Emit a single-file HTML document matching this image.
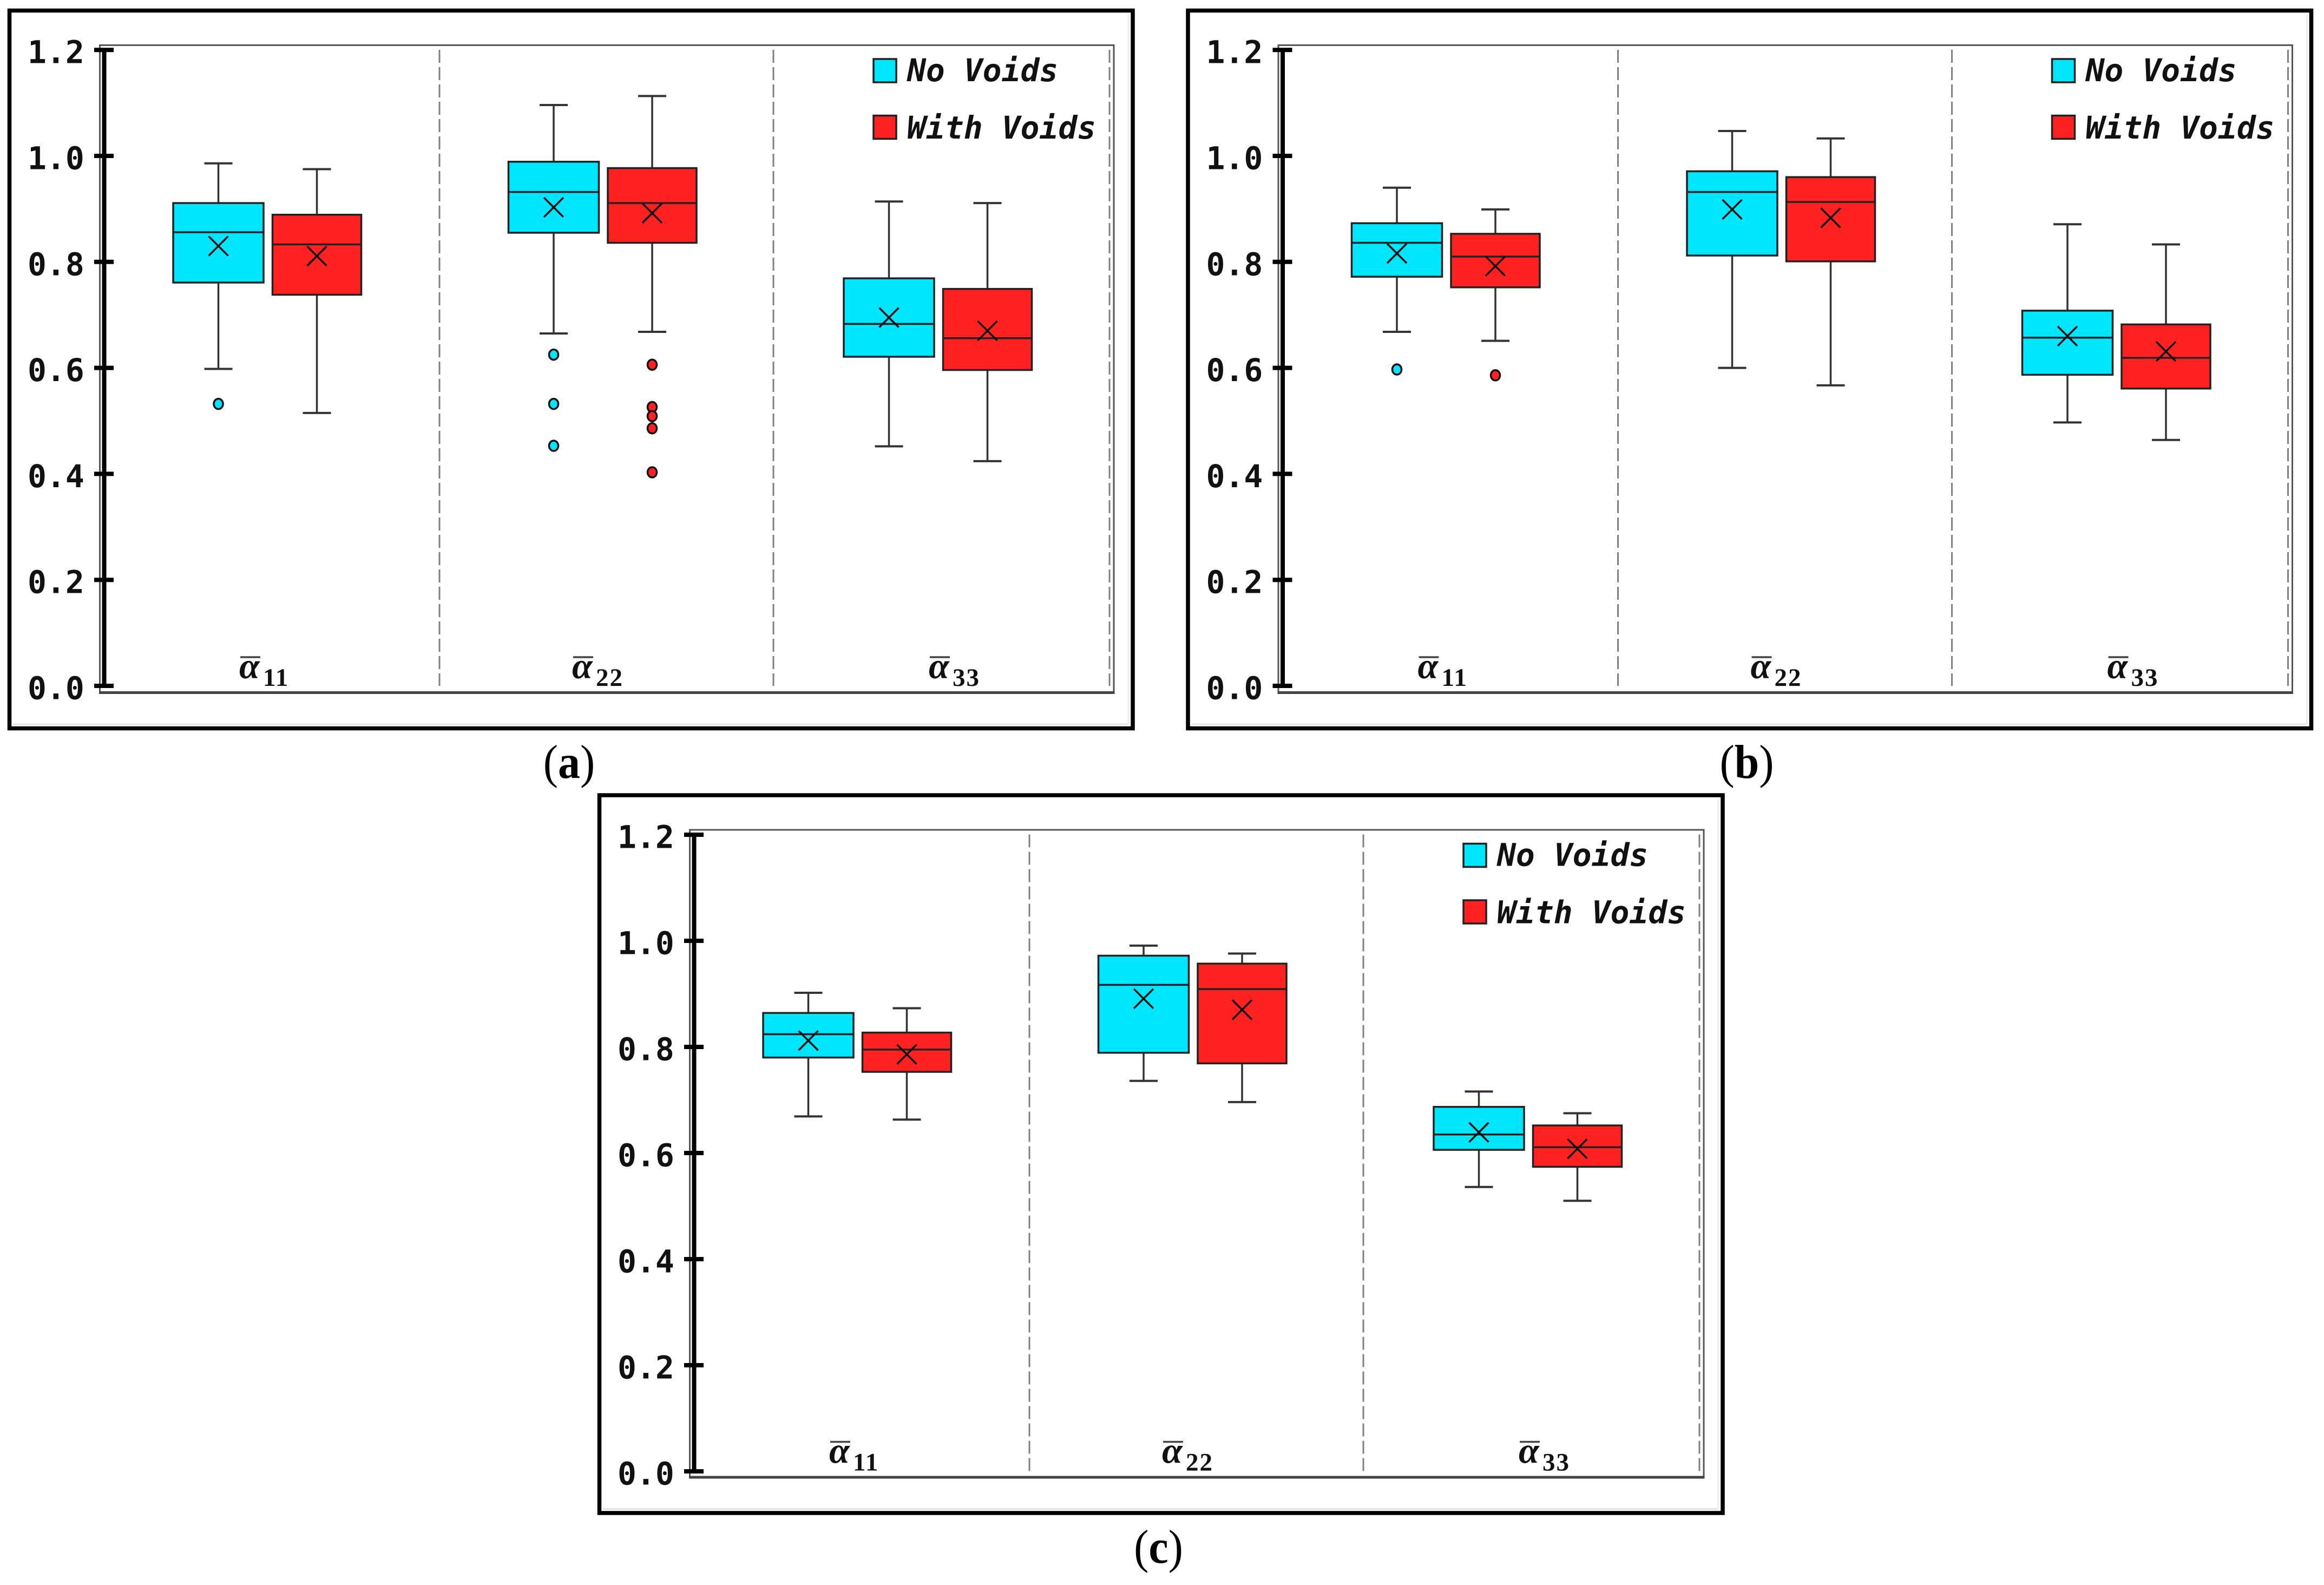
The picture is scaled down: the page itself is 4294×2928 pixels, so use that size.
<!DOCTYPE html>
<html lang="en">
<head>
<meta charset="utf-8">
<title>Box plots of normalised alpha components with and without voids</title>
<style>
html,body{margin:0;padding:0;background:#fff;}
body{width:4294px;height:2928px;overflow:hidden;}
svg{display:block;}
</style>
</head>
<body>
<svg id="chart" xmlns="http://www.w3.org/2000/svg" width="4294" height="2928" viewBox="0 0 4294 2928"></svg>
<script>
// ---- shared chart labels ----
const categorySubscripts = ['11', '22', '33'];
const seriesNames = ['No Voids', 'With Voids'];
const seriesColors = ['#00E6FF', '#FF2020'];
const tickValues = [0, 0.2, 0.4, 0.6, 0.8, 1.0, 1.2];
const tickLabels = ['0.0', '0.2', '0.4', '0.6', '0.8', '1.0', '1.2'];
const panelLetters = ['a', 'b', 'c'];

// ---- panel (a): rows are series (No Voids, With Voids), columns are categories ----
const panelA_whiskerHigh = [[0.986, 1.096, 0.914], [0.975, 1.113, 0.911]];
const panelA_q3 = [[0.911, 0.989, 0.769], [0.889, 0.977, 0.749]];
const panelA_median = [[0.856, 0.932, 0.683], [0.833, 0.911, 0.656]];
const panelA_mean = [[0.830, 0.903, 0.695], [0.811, 0.892, 0.670]];
const panelA_q1 = [[0.761, 0.855, 0.621], [0.738, 0.836, 0.596]];
const panelA_whiskerLow = [[0.598, 0.665, 0.452], [0.515, 0.668, 0.424]];
const panelA_outliers = [[[0.532], [0.625, 0.532, 0.453], []], [[], [0.606, 0.526, 0.509, 0.486, 0.403], []]];

// ---- panel (b) ----
const panelB_whiskerHigh = [[0.940, 1.047, 0.871], [0.899, 1.033, 0.833]];
const panelB_q3 = [[0.873, 0.971, 0.708], [0.853, 0.960, 0.682]];
const panelB_median = [[0.836, 0.932, 0.657], [0.810, 0.913, 0.619]];
const panelB_mean = [[0.816, 0.899, 0.660], [0.792, 0.883, 0.631]];
const panelB_q1 = [[0.772, 0.812, 0.587], [0.752, 0.801, 0.561]];
const panelB_whiskerLow = [[0.668, 0.600, 0.497], [0.651, 0.567, 0.464]];
const panelB_outliers = [[[0.597], [], []], [[0.586], [], []]];

// ---- panel (c) ----
const panelC_whiskerHigh = [[0.902, 0.991, 0.716], [0.873, 0.976, 0.675]];
const panelC_q3 = [[0.864, 0.972, 0.687], [0.827, 0.957, 0.652]];
const panelC_median = [[0.824, 0.917, 0.635], [0.795, 0.909, 0.611]];
const panelC_mean = [[0.812, 0.891, 0.639], [0.786, 0.870, 0.608]];
const panelC_q1 = [[0.780, 0.789, 0.606], [0.753, 0.769, 0.574]];
const panelC_whiskerLow = [[0.669, 0.736, 0.536], [0.663, 0.696, 0.510]];
const panelC_outliers = [[[], [], []], [[], [], []]];

// ---- axis functions (panel-local pixel space) ----
let yZero = 1267, yUnit = 979;
function yScale(v) { return yZero - v * yUnit; }
const GROUP_START = 494.5, GROUP_STEP = 619.5, SERIES_OFFSET = 91;
function xScale(cat, ser) { return GROUP_START + GROUP_STEP * cat + (ser === 0 ? -SERIES_OFFSET : SERIES_OFFSET); }
function boxWidth(ser) { return ser === 0 ? 167 : 164; }

const NS = 'http://www.w3.org/2000/svg';
const MONO = '"DejaVu Sans Mono","Liberation Mono",monospace';
const SERIF = '"Liberation Serif",serif';
function mk(parent, tag, attrs, text) {
  const n = document.createElementNS(NS, tag);
  for (const k in attrs) n.setAttribute(k, attrs[k]);
  if (text !== undefined) n.textContent = text;
  parent.appendChild(n);
  return n;
}
function tag(n, name, interactable) {
  
  
  return n;
}

const svg = document.getElementById('chart');

function drawPanel(letter, dx, dy, zero, unit, s) {
  yZero = zero;
  yUnit = unit;
  const g = mk(svg, 'g', { transform: 'translate(' + dx + ',' + dy + ')' });
  tag(g, 'panel-' + letter, false);

  // card frame and its faint inner shadow
  const sh1 = mk(g, 'line', { x1: 24, y1: 1338, x2: 2084, y2: 1338, stroke: '#e4e4e4', 'stroke-width': 3 });
  tag(sh1, 'frame-shadow-bottom', false);
  const sh2 = mk(g, 'line', { x1: 2085, y1: 26, x2: 2085, y2: 1338, stroke: '#ececec', 'stroke-width': 3 });
  tag(sh2, 'frame-shadow-right', false);
  const outer = mk(g, 'rect', { x: 17.5, y: 19.5, width: 2075.5, height: 1326, fill: 'none', stroke: '#000', 'stroke-width': 7.5 });
  tag(outer, 'panel-frame', false);

  // plot frame
  const plot = mk(g, 'path', { d: 'M184.5 83.5H2058V1279.5H184.5Z', fill: 'none', stroke: '#555', 'stroke-width': 3 });
  tag(plot, 'plot-frame', false);
  const base = mk(g, 'line', { x1: 183, y1: 1279.5, x2: 2059.5, y2: 1279.5, stroke: '#444', 'stroke-width': 5 });
  tag(base, 'x-axis-line', false);

  // dashed separators
  [812, 1429, 2050].forEach(function (x, i) {
    const d = mk(g, 'line', { x1: x, y1: 92, x2: x, y2: yScale(0), stroke: '#808080', 'stroke-width': 3, 'stroke-dasharray': '24 8' });
    tag(d, 'category-divider-' + (i + 1), false);
  });

  // y axis
  const ax = mk(g, 'line', { x1: 192.5, y1: yScale(1.2), x2: 192.5, y2: yScale(0), stroke: '#000', 'stroke-width': 8 });
  tag(ax, 'y-axis-line', false);
  tickValues.forEach(function (v, i) {
    const t = mk(g, 'line', { x1: 174, y1: yScale(v), x2: 210, y2: yScale(v), stroke: '#000', 'stroke-width': 8 });
    tag(t, 'y-tick-' + tickLabels[i], false);
    const lab = mk(g, 'text', { x: 51, y: yScale(v) + 24.5, 'font-family': MONO, 'font-weight': 'bold', 'font-size': 58, fill: '#111' }, tickLabels[i]);
    tag(lab, 'y-tick-label-' + tickLabels[i], false);
  });

  // boxes
  categorySubscripts.forEach(function (sub, c) {
    seriesNames.forEach(function (name, r) {
      const cx = xScale(c, r), w = boxWidth(r), slug = (r === 0 ? 'no-voids' : 'with-voids') + '-a' + sub;
      const box = mk(g, 'g', {});
      tag(box, 'box-' + slug, false);
      const stem = mk(box, 'path', {
        d: 'M' + cx + ' ' + yScale(s.high[r][c]) + 'V' + yScale(s.q3[r][c]) + 'M' + cx + ' ' + yScale(s.q1[r][c]) + 'V' + yScale(s.low[r][c]),
        stroke: '#333', 'stroke-width': 3.5, fill: 'none'
      });
      tag(stem, 'whisker-' + slug, false);
      const capHigh = mk(box, 'line', { x1: cx - 26, x2: cx + 26, y1: yScale(s.high[r][c]), y2: yScale(s.high[r][c]), stroke: '#333', 'stroke-width': 4 });
      tag(capHigh, 'whisker-cap-high-' + slug, false);
      const capLow = mk(box, 'line', { x1: cx - 26, x2: cx + 26, y1: yScale(s.low[r][c]), y2: yScale(s.low[r][c]), stroke: '#333', 'stroke-width': 4 });
      tag(capLow, 'whisker-cap-low-' + slug, false);
      const rect = mk(box, 'rect', {
        x: cx - w / 2, y: yScale(s.q3[r][c]), width: w, height: yScale(s.q1[r][c]) - yScale(s.q3[r][c]),
        fill: seriesColors[r], stroke: '#222', 'stroke-width': 3.5
      });
      tag(rect, 'iqr-box-' + slug, false);
      const med = mk(box, 'line', { x1: cx - w / 2, x2: cx + w / 2, y1: yScale(s.median[r][c]), y2: yScale(s.median[r][c]), stroke: '#222', 'stroke-width': 3.5 });
      tag(med, 'median-' + slug, false);
      const my = yScale(s.mean[r][c]);
      const mean = mk(box, 'path', { d: 'M' + (cx - 18) + ' ' + (my - 18) + 'L' + (cx + 18) + ' ' + (my + 18) + 'M' + (cx + 18) + ' ' + (my - 18) + 'L' + (cx - 18) + ' ' + (my + 18), stroke: '#111', 'stroke-width': 3.5, fill: 'none' });
      tag(mean, 'mean-marker-' + slug, false);
      s.outliers[r][c].forEach(function (v) {
        const o = mk(box, 'ellipse', { cx: cx, cy: yScale(v), rx: 8.5, ry: 9.5, fill: seriesColors[r], stroke: '#111', 'stroke-width': 3.5 });
        tag(o, 'outlier-' + slug, false);
      });
    });
  });

  // category labels
  [444, 1059, 1718].forEach(function (x, c) {
    const lab = mk(g, 'text', { y: 1253, 'font-family': SERIF, 'font-weight': 'bold', fill: '#111' });
    tag(lab, 'category-label-' + categorySubscripts[c], false);
    const alpha = mk(lab, 'tspan', { x: x - 2, 'font-style': 'italic', 'font-size': 68 }, '\u03B1');
    tag(alpha, 'category-symbol', false);
    const sub = mk(lab, 'tspan', { x: x + 42, y: 1267, 'font-size': 47, 'letter-spacing': 2 }, categorySubscripts[c]);
    tag(sub, 'category-subscript', false);
    const bar = mk(g, 'line', { x1: x, x2: x + 37, y1: 1214, y2: 1214, stroke: '#444', 'stroke-width': 3.5 });
    tag(bar, 'category-overbar-' + categorySubscripts[c], false);
  });

  // legend
  seriesNames.forEach(function (name, r) {
    const top = r === 0 ? 109 : 213.5;
    const base = r === 0 ? 150 : 256;
    const entry = mk(g, 'g', {});
    tag(entry, 'legend-entry-' + (r === 0 ? 'no-voids' : 'with-voids'), false);
    const sw = mk(entry, 'rect', { x: 1614, y: top, width: 42, height: 43, fill: seriesColors[r], stroke: '#222', 'stroke-width': 3.5 });
    tag(sw, 'legend-swatch', false);
    const tx = mk(entry, 'text', { x: 1676, y: base, 'font-family': MONO, 'font-weight': 'bold', 'font-style': 'italic', 'font-size': 58, fill: '#111' }, name);
    tag(tx, 'legend-label', false);
  });
}

drawPanel('a', 0, 0, 1267, 979, { high: panelA_whiskerHigh, q3: panelA_q3, median: panelA_median, mean: panelA_mean, q1: panelA_q1, low: panelA_whiskerLow, outliers: panelA_outliers });
drawPanel('b', 2177.5, 0, 1267, 979, { high: panelB_whiskerHigh, q3: panelB_q3, median: panelB_median, mean: panelB_mean, q1: panelB_q1, low: panelB_whiskerLow, outliers: panelB_outliers });
drawPanel('c', 1090, 1449.5, 1268.5, 980, { high: panelC_whiskerHigh, q3: panelC_q3, median: panelC_median, mean: panelC_mean, q1: panelC_q1, low: panelC_whiskerLow, outliers: panelC_outliers });

// sub-figure captions
[[1051.5, 1437], [3227.5, 1437], [2140.5, 2887]].forEach(function (pos, i) {
  const cap = mk(svg, 'text', { transform: 'translate(' + pos[0] + ',' + pos[1] + ') scale(0.93,1)', x: 0, y: 0, 'text-anchor': 'middle', 'font-family': SERIF, 'font-size': 88, fill: '#000' });
  tag(cap, 'caption-' + panelLetters[i], false);
  mk(cap, 'tspan', {}, '(');
  const b = mk(cap, 'tspan', { 'font-weight': 'bold' }, panelLetters[i]);
  tag(b, 'caption-letter', false);
  mk(cap, 'tspan', {}, ')');
});
</script>
</body>
</html>
